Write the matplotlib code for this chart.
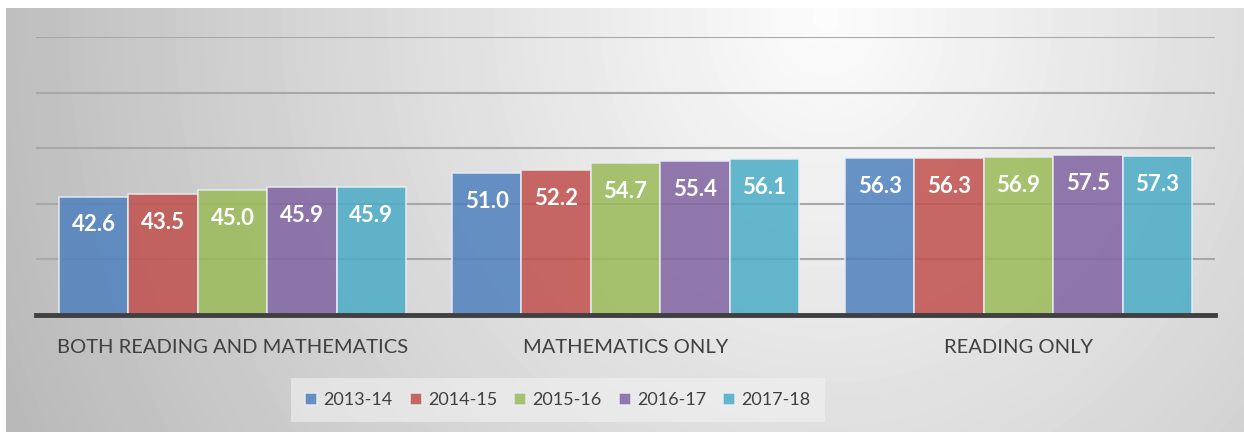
import numpy as np
import matplotlib
matplotlib.use('Agg')
import matplotlib.pyplot as plt

categories = ['BOTH READING AND MATHEMATICS', 'MATHEMATICS ONLY', 'READING ONLY']
years = ['2013-14', '2014-15', '2015-16', '2016-17', '2017-18']
values = [
    [42.6, 51.0, 56.3],   # 2013-14
    [43.5, 52.2, 56.3],   # 2014-15
    [45.0, 54.7, 56.9],   # 2015-16
    [45.9, 55.4, 57.5],   # 2016-17
    [45.9, 56.1, 57.3],   # 2017-18
]
colors = ['#4F81BD', '#C0504D', '#9BBB59', '#8064A2', '#4BACC6']

plt.rcParams['font.family'] = ['Lato', 'DejaVu Sans']

W, H = 1244, 432
fig = plt.figure(figsize=(W / 100, H / 100), dpi=100)
fig.patch.set_facecolor('white')

# background panel with a soft radial gradient
bg = fig.add_axes([6 / W, 0, 1 - 6 / W, 1 - 8 / H])
yy, xx = np.mgrid[0:424, 0:1238]
d = np.sqrt(((xx - 820) / 1.0) ** 2 + ((yy - 10) / 1.1) ** 2)
shade = np.clip(252 - 0.075 * d, 180, 252) / 255.0
bg.imshow(shade, cmap='gray', vmin=0, vmax=1, aspect='auto', interpolation='bilinear')
bg.set_axis_off()

ax = fig.add_axes([36 / W, 117 / H, (1215 - 36) / W, (315 - 37) / H])
ax.patch.set_alpha(0)

n = len(years)
x = np.arange(len(categories))
group_w = 347 / 393
bw = group_w / n
for i, (yr, vals) in enumerate(zip(years, values)):
    pos = x - group_w / 2 + bw * (i + 0.5)
    bars = ax.bar(pos, vals, width=bw, color=colors[i], alpha=0.85,
                  edgecolor='#e8eef4', linewidth=1.2, label=yr, zorder=3)
    for b, v in zip(bars, vals):
        ax.text(b.get_x() + b.get_width() / 2, v - 10.2, f'{v:.1f}',
                ha='center', va='center', color='white', fontsize=16,
                fontweight='bold', zorder=4)

ax.set_xlim(-0.5, len(categories) - 0.5)
ax.set_ylim(0, 100)
ax.set_yticks([20, 40, 60, 80, 100])
ax.yaxis.grid(True, color='#a8a8a8', linewidth=1.5, zorder=0)
ax.set_yticklabels([])
ax.tick_params(axis='y', length=0)
ax.axhline(0, color='#404040', linewidth=3.5, zorder=5, clip_on=False)
for s in ax.spines.values():
    s.set_visible(False)

ax.set_xticks(x)
ax.set_xticklabels(categories, fontsize=14.5, color='#404040')
ax.tick_params(axis='x', length=0, pad=17)

leg = fig.legend(loc='center', bbox_to_anchor=(558 / W, 1 - 400 / H), ncol=5,
                 frameon=True, fontsize=13, handlelength=0.65, handleheight=0.65,
                 handletextpad=0.35, columnspacing=0.95, borderpad=0.8,
                 labelcolor='#404040')
leg.get_frame().set_facecolor('#f2f2f2')
leg.get_frame().set_alpha(0.6)
leg.get_frame().set_edgecolor('none')
leg.get_frame().set_boxstyle('square', pad=0)

fig.savefig('out.png', dpi=100)
